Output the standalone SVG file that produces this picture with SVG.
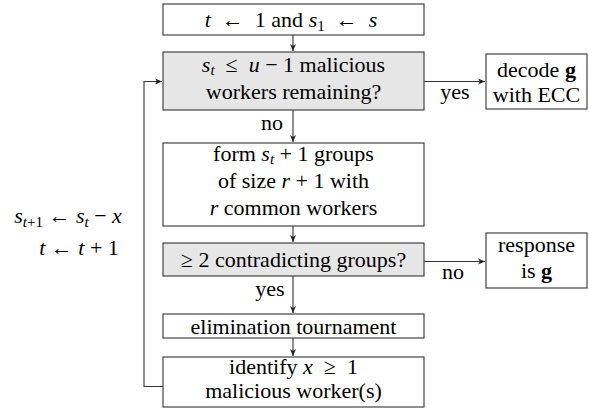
<svg xmlns="http://www.w3.org/2000/svg" width="589" height="419" viewBox="0 0 589 419">
<style>
text{font-family:"Liberation Serif","Times New Roman",serif;font-size:22px;fill:#000}
.c{text-anchor:middle}
.i{font-style:italic}
.b{font-weight:bold}
.s{font-size:15px}
.box{fill:#fff;stroke:#333;stroke-width:1.1}
.g{fill:#e6e6e6}
.ln{fill:none;stroke:#333;stroke-width:1.1}
</style>
<defs>
<marker id="ar" markerWidth="8" markerHeight="8" refX="7" refY="4" orient="auto" markerUnits="userSpaceOnUse">
<path d="M0,1 L7,4 L0,7 L2,4 Z" fill="#222"/>
</marker>
</defs>
<rect width="589" height="419" fill="#fff"/>
<g id="connectors">
<line class="ln" x1="293" y1="35" x2="293" y2="51" marker-end="url(#ar)"/>
<line class="ln" x1="293" y1="110" x2="293" y2="142" marker-end="url(#ar)"/>
<line class="ln" x1="293" y1="226" x2="293" y2="242" marker-end="url(#ar)"/>
<line class="ln" x1="293" y1="276" x2="293" y2="313" marker-end="url(#ar)"/>
<line class="ln" x1="293" y1="338" x2="293" y2="356" marker-end="url(#ar)"/>
<line class="ln" x1="424" y1="81.5" x2="485" y2="81.5" marker-end="url(#ar)"/>
<line class="ln" x1="424" y1="261.5" x2="485" y2="261.5" marker-end="url(#ar)"/>
<polyline class="ln" points="163,386.5 144,386.5 144,81.5 162,81.5" marker-end="url(#ar)"/>
<text class="c" x="455" y="99">yes</text>
<text class="c" x="272" y="130">no</text>
<text class="c" x="453" y="279">no</text>
<text class="c" x="270" y="296">yes</text>
<text class="c" x="68" y="223" font-size="23"><tspan class="i">s</tspan><tspan class="i s" dy="4">t</tspan><tspan class="s">+1</tspan><tspan dy="-4">&#160;←&#160;</tspan><tspan class="i">s</tspan><tspan class="i s" dy="4">t</tspan><tspan dy="-4">&#160;−&#160;</tspan><tspan class="i">x</tspan></text>
<text class="c" x="79" y="255" font-size="23"><tspan class="i">t</tspan>&#160;←&#160;<tspan class="i">t</tspan>&#160;+&#160;1</text>
</g>
<g id="n1">
<rect class="box" x="163" y="4" width="261" height="31"/>
<text class="c" x="291" y="27"><tspan class="i">t</tspan>&#160;&#160;←&#160;&#160;1 and <tspan class="i">s</tspan><tspan class="s" dy="4">1</tspan><tspan dy="-4">&#160;&#160;←&#160;&#160;</tspan><tspan class="i">s</tspan></text>
</g>
<g id="n2">
<rect class="box g" x="163" y="52" width="261" height="58"/>
<text class="c" x="293.5" y="72"><tspan class="i">s</tspan><tspan class="i s" dy="3">t</tspan><tspan dy="-3">&#160;&#160;≤&#160;&#160;</tspan><tspan class="i">u</tspan>&#160;−&#160;1 malicious</text>
<text class="c" x="293.5" y="99">workers remaining?</text>
</g>
<g id="n3">
<rect class="box" x="486" y="54" width="101" height="55"/>
<text class="c" x="536.5" y="77">decode <tspan class="b">g</tspan></text>
<text class="c" x="536.5" y="102">with ECC</text>
</g>
<g id="n4">
<rect class="box" x="163" y="143" width="261" height="83"/>
<text class="c" x="293.5" y="161">form <tspan class="i">s</tspan><tspan class="i s" dy="3">t</tspan><tspan dy="-3">&#160;+&#160;1 groups</tspan></text>
<text class="c" x="293.5" y="188">of size <tspan class="i">r</tspan>&#160;+&#160;1 with</text>
<text class="c" x="293.5" y="215"><tspan class="i">r</tspan> common workers</text>
</g>
<g id="n5">
<rect class="box g" x="163" y="243" width="261" height="33"/>
<text class="c" x="293.5" y="267">≥ 2 contradicting groups?</text>
</g>
<g id="n6">
<rect class="box" x="486" y="233" width="101" height="55"/>
<text class="c" x="536.5" y="252">response</text>
<text class="c" x="536.5" y="278">is <tspan class="b">g</tspan></text>
</g>
<g id="n7">
<rect class="box" x="163" y="314" width="261" height="24"/>
<text class="c" x="293.5" y="334">elimination tournament</text>
</g>
<g id="n8">
<rect class="box" x="163" y="357" width="261" height="50"/>
<text class="c" x="293.5" y="374">identify <tspan class="i">x</tspan>&#160;&#160;≥&#160;&#160;1</text>
<text class="c" x="293.5" y="398">malicious worker(s)</text>
</g>
</svg>
